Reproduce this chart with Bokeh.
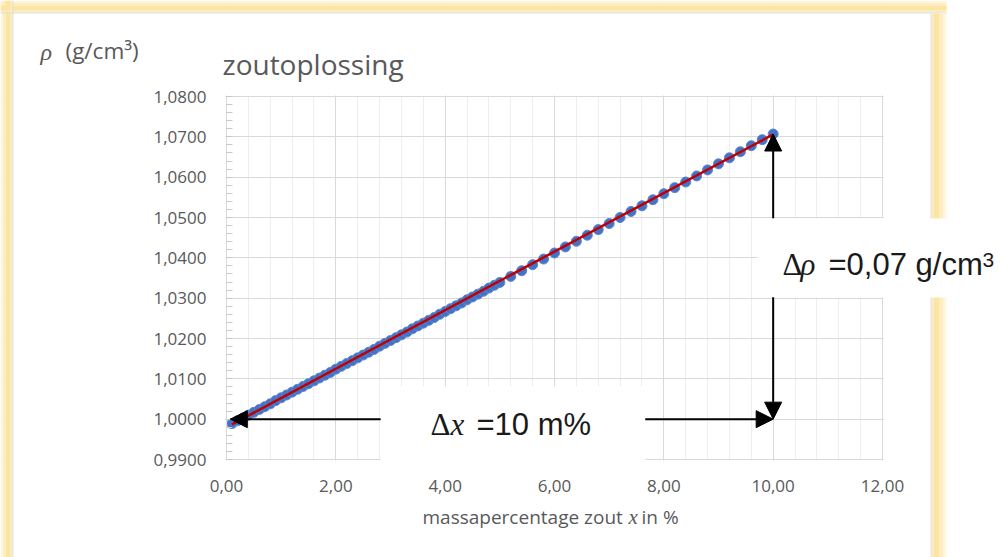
from bokeh.plotting import figure
from bokeh.models import (Range1d, FixedTicker, CustomJSTickFormatter, Label, LinearAxis,
                          Grid, BoxAnnotation, Arrow, NormalHead)
from bokeh.embed import file_html
from bokeh.resources import INLINE

# ---------------- data ----------------
mass_pct = [0.1, 0.2, 0.3, 0.4, 0.5, 0.6, 0.7, 0.8, 0.9, 1.0,
            1.1, 1.2, 1.3, 1.4, 1.5, 1.6, 1.7, 1.8, 1.9, 2.0,
            2.1, 2.2, 2.3, 2.4, 2.5, 2.6, 2.7, 2.8, 2.9, 3.0,
            3.1, 3.2, 3.3, 3.4, 3.5, 3.6, 3.7, 3.8, 3.9, 4.0,
            4.1, 4.2, 4.3, 4.4, 4.5, 4.6, 4.7, 4.8, 4.9, 5.0,
            5.2, 5.4, 5.6, 5.8, 6.0, 6.2, 6.4, 6.6, 6.8, 7.0,
            7.2, 7.4, 7.6, 7.8, 8.0, 8.2, 8.4, 8.6, 8.8, 9.0,
            9.2, 9.4, 9.6, 9.8, 10.0]
density = [0.9989, 0.9996, 1.0003, 1.0010, 1.0017, 1.0024, 1.0031, 1.0038, 1.0046, 1.0053,
           1.0060, 1.0067, 1.0074, 1.0081, 1.0088, 1.0095, 1.0102, 1.0109, 1.0116, 1.0124,
           1.0131, 1.0138, 1.0145, 1.0152, 1.0159, 1.0166, 1.0173, 1.0181, 1.0188, 1.0195,
           1.0202, 1.0209, 1.0216, 1.0224, 1.0231, 1.0238, 1.0245, 1.0252, 1.0260, 1.0267,
           1.0274, 1.0281, 1.0288, 1.0296, 1.0303, 1.0310, 1.0317, 1.0325, 1.0332, 1.0339,
           1.0354, 1.0368, 1.0383, 1.0397, 1.0412, 1.0427, 1.0441, 1.0456, 1.0470, 1.0485,
           1.0500, 1.0515, 1.0529, 1.0544, 1.0559, 1.0574, 1.0588, 1.0603, 1.0618, 1.0633,
           1.0648, 1.0663, 1.0678, 1.0693, 1.0707]
trend_x = [0.1, 10.0]
trend_y = [0.9987, 1.0706]

x_ticks = [0, 2, 4, 6, 8, 10, 12]
y_ticks = [0.99, 1.00, 1.01, 1.02, 1.03, 1.04, 1.05, 1.06, 1.07, 1.08]
x_minor = [round(0.4 * i, 1) for i in range(31)]
y_minor = [round(0.99 + 0.002 * i, 3) for i in range(46)]
X_LIM = (0, 12)
Y_LIM = (0.99, 1.08)

title_text = "zoutoplossing"
x_label_parts = ["massapercentage zout", "x", "in %"]
y_label_parts = ["ρ", "(g/cm³)"]

# annotation (Δ) endpoints
rho_base = 1.0
x_tip_left = 0.07
gap_x = (2.82, 7.66)
gap_y = (1.0302, 1.0498)

GRAY = "#595959"
W, H = 1001, 557
# plot-area placement on the canvas (pixels)
FL, FR, FT, FB = 226, 882, 96, 459
sx = (FR - FL) / (X_LIM[1] - X_LIM[0])
sy = (FB - FT) / (Y_LIM[1] - Y_LIM[0])
xr = Range1d(X_LIM[0] - FL / sx, X_LIM[1] + (W - FR) / sx)
yr = Range1d(Y_LIM[0] - (H - FB) / sy, Y_LIM[1] + FT / sy)

p = figure(width=W, height=H, output_backend="svg", toolbar_location=None,
           title=None, x_range=xr, y_range=yr, x_axis_type=None, y_axis_type=None,
           min_border=0)
p.background_fill_color = "white"
p.border_fill_color = "white"
p.outline_line_color = None

fmt_x = CustomJSTickFormatter(code="return tick.toFixed(2).replace('.', ',');")
fmt_y = CustomJSTickFormatter(code="return tick.toFixed(4).replace('.', ',');")
xaxis = LinearAxis(ticker=FixedTicker(ticks=x_ticks, minor_ticks=x_minor), formatter=fmt_x,
                   fixed_location=Y_LIM[0], bounds=X_LIM)
yaxis = LinearAxis(ticker=FixedTicker(ticks=y_ticks, minor_ticks=y_minor), formatter=fmt_y,
                   fixed_location=X_LIM[0], bounds=Y_LIM)
for ax in (xaxis, yaxis):
    ax.axis_line_color = "#D9D9D9"
    ax.major_label_text_font = "Open Sans"
    ax.major_label_text_font_size = "17px"
    ax.major_label_text_color = GRAY
    ax.major_tick_out = 0
    ax.minor_tick_out = 0
xaxis.major_tick_line_color = None
xaxis.minor_tick_line_color = None
xaxis.major_label_standoff = 20
yaxis.major_tick_in = 6
yaxis.minor_tick_in = 6
yaxis.major_tick_line_color = "#C8C8C8"
yaxis.minor_tick_line_color = "#C8C8C8"
yaxis.major_label_standoff = 20
p.add_layout(xaxis, "below")
p.add_layout(yaxis, "left")

xgrid = Grid(dimension=0, axis=xaxis, grid_line_color="#D9D9D9",
             minor_grid_line_color="#EEEEEE")
ygrid = Grid(dimension=1, axis=yaxis, grid_line_color="#D9D9D9")
p.add_layout(xgrid, "center")
p.add_layout(ygrid, "center")

# white masks outside the plot area (under glyphs, above grid lines)
ex, ey = 1.0 / sx, 1.0 / sy
for (l, r, b, t) in [(xr.start, X_LIM[0] - ex, yr.start, yr.end),
                     (X_LIM[1] + ex, xr.end, yr.start, yr.end),
                     (xr.start, xr.end, yr.start, Y_LIM[0] - ey),
                     (xr.start, xr.end, Y_LIM[1] + ey, yr.end)]:
    p.add_layout(BoxAnnotation(left=l, right=r, bottom=b, top=t, level="underlay",
                               fill_color="white", fill_alpha=1, line_color=None))

p.scatter(mass_pct, density, size=10, fill_color="#4472C4", line_color="#5B86D0",
          line_width=1)
p.line(trend_x, trend_y, line_color="#C00000", line_width=2.5)

# ---- yellow glow frame ----
def band(l, r, t, b, color):
    p.add_layout(BoxAnnotation(left=l, right=r, top=t, bottom=b,
                               left_units="canvas", right_units="canvas",
                               top_units="canvas", bottom_units="canvas",
                               fill_color=color, fill_alpha=1, line_color=None))

for (o, i, c) in [(0, 2, "#FFF6E0"), (2, 5, "#FEEDC2"), (5, 10, "#FCE4A3"),
                  (10, 12, "#FAEAC0"), (12, 13, "#E2DED2")]:
    band(o, i, 0, H, c)                # left
    band(0, 946, o, i, c)              # top
for (o, i, c) in [(943, 946, "#FFF6E0"), (939, 943, "#FEEDC2"), (933, 939, "#FCE4A3"),
                  (931, 933, "#FAEAC0"), (930, 931, "#E2DED2")]:
    band(o, i, 13, H, c)               # right

# white boxes behind annotation texts
band(380, 645, 386, 463, "white")
band(757, W, 218, 297, "white")

# ---- arrows ----
def arrow(xs, ys, xe, ye):
    p.add_layout(Arrow(end=NormalHead(size=17, fill_color="black", line_color="black"),
                       x_start=xs, y_start=ys, x_end=xe, y_end=ye,
                       line_color="black", line_width=2))

arrow(gap_x[0], rho_base, x_tip_left, rho_base)
arrow(gap_x[1], rho_base, mass_pct[-1], rho_base)
arrow(mass_pct[-1], gap_y[1], mass_pct[-1], density[-1])
arrow(mass_pct[-1], gap_y[0], mass_pct[-1], rho_base)

def lab(x, y, text, font, size, color, style="normal", align="left"):
    p.add_layout(Label(x=x, y=y, x_units="canvas", y_units="canvas", text=text,
                       text_font=font, text_font_size=size, text_color=color,
                       text_font_style=style, text_align=align, text_baseline="middle"))

# titles / axis texts
lab(222, 63, title_text, "Open Sans", "28px", GRAY)
lab(40, 51, y_label_parts[0], "Liberation Serif", "24px", GRAY, style="italic")
lab(65, 50, y_label_parts[1], "Open Sans", "22.5px", GRAY)
lab(422, 516, x_label_parts[0], "Open Sans", "19px", GRAY)
lab(628, 516, x_label_parts[1], "Liberation Serif", "21px", GRAY, style="italic")
lab(641, 516, x_label_parts[2], "Open Sans", "19px", GRAY)

# Δ annotations
lab(430, 424, "Δ", "Liberation Serif", "31px", "#1A1A1A")
lab(450, 424, "x", "Liberation Serif", "31px", "#1A1A1A", style="italic")
lab(476, 424, "=10 m%", "Liberation Sans", "31px", "#1A1A1A")
lab(782, 264, "Δ", "Liberation Serif", "31px", "#1A1A1A")
lab(800, 264, "ρ", "Liberation Serif", "31px", "#1A1A1A", style="italic")
lab(828, 264, "=0,07 g/cm", "Liberation Sans", "31px", "#1A1A1A")
lab(982, 259, "3", "Liberation Sans", "21px", "#1A1A1A")

open("out.html", "w").write(file_html(p, INLINE))
